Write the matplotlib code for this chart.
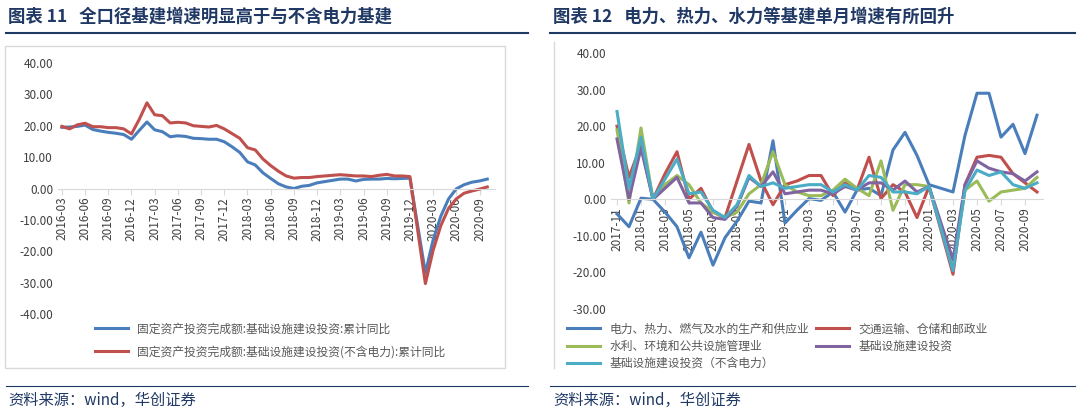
import matplotlib
matplotlib.use("Agg")
import matplotlib.pyplot as plt
from matplotlib.patches import Rectangle
from matplotlib.lines import Line2D

plt.rcParams["font.family"] = "Noto Sans CJK SC"

# ---- left chart data: cumulative yoy, monthly 2016-03 .. 2020-10 (no 2020-01)
left_months = ["2016-%02d" % m for m in range(3, 13)] + \
    ["2017-%02d" % m for m in range(1, 13)] + \
    ["2018-%02d" % m for m in range(1, 13)] + \
    ["2019-%02d" % m for m in range(1, 13)] + \
    ["2020-%02d" % m for m in range(2, 11)]
infra_cum = [19.5, 19.6, 19.8, 20.2, 18.8, 18.3, 17.9, 17.6, 17.2, 15.7,
             18.5, 21.2, 18.7, 18.1, 16.5, 16.8, 16.6, 16.0, 15.9, 15.7, 15.7, 14.9,
             13.3, 11.5, 8.5, 7.5, 5.0, 3.2, 1.5, 0.5, 0.0, 0.7, 1.0, 1.8,
             2.2, 2.6, 3.0, 3.0, 2.4, 2.9, 3.0, 3.0, 3.2, 3.1, 3.2, 3.3,
             -26.9, -16.4, -8.8, -3.3, -0.1, 1.2, 2.0, 2.4, 3.0]
infra_ex_cum = [19.8, 19.0, 20.3, 20.8, 19.7, 19.7, 19.4, 19.4, 19.0, 17.4,
                22.0, 27.3, 23.5, 23.2, 20.9, 21.1, 20.9, 20.0, 19.8, 19.6, 20.1, 19.0,
                17.5, 16.0, 13.0, 12.3, 9.4, 7.3, 5.5, 4.0, 3.3, 3.5, 3.5, 3.8,
                4.0, 4.2, 4.4, 4.2, 4.0, 4.0, 3.8, 4.2, 4.5, 4.0, 4.0, 3.8,
                -30.3, -19.7, -11.8, -6.3, -3.3, -1.5, -0.8, -0.2, 0.5]
left_ticks = ["2016-03", "2016-06", "2016-09", "2016-12", "2017-03", "2017-06", "2017-09",
              "2017-12", "2018-03", "2018-06", "2018-09", "2018-12", "2019-03", "2019-06",
              "2019-09", "2019-12", "2020-03", "2020-06", "2020-09"]

# ---- right chart data: monthly yoy, 2017-11 .. 2020-10 (no 2020-02)
right_months = ["2017-11", "2017-12"] + ["2018-%02d" % m for m in range(1, 13)] + \
    ["2019-%02d" % m for m in range(1, 13)] + ["2020-01"] + \
    ["2020-%02d" % m for m in range(3, 11)]
power = [-4, -7.5, 0.3, 0, -3.5, -7.5, -16, -9, -18, -10.5, -6, -0.5, -1, 16,
         -6.5, -3, 0.2, -0.3, 2, -3.5, 2.5, 3, 1, 13.5, 18.3, 12,
         4, 2, 17.5, 29, 29, 17, 20.5, 12.5, 23]
transport = [20, 6, 15, 0, 7, 13, 0, 3, -3.5, -5, 5, 15, 5, -1.5,
             4, 5, 6.5, 6.5, 1, 4.5, 2.5, 11.5, 0.2, 4, 2, -5,
             3.5, -20.5, 4, 11.5, 12, 11.5, 7, 4.5, 2]
water = [19, -1, 19.5, 0, 4, 6.5, 4, -1, -3.5, -5, -3.5, 1.5, 4, 13,
         4, 2, 1, 1, 2.5, 5.5, 3, 1, 10.5, -3, 4, 4,
         3.5, -18, 2.5, 5, -0.5, 2, 2.5, 3, 6]
infra = [16.5, 0, 14, 0, 3, 6, -1, -1, -5, -5.5, -2, 6, 3.5, 7.5,
         1.5, 2, 2.5, 2.5, 1.5, 3.5, 2.5, 4.5, 4.5, 2.5, 5, 2,
         3.5, -16.5, 4, 10.5, 8.5, 7.5, 7, 5, 7.5]
infra_ex = [24, 3, 17, 0, 5.5, 11, 1.5, 2, -3, -5, -1.5, 6.5, 3.5, 4.5,
            3, 3.5, 4, 4, 2, 4, 2.5, 6.5, 6, 2, 2, 1.5,
            3.5, -19.5, 2.5, 8, 6.5, 7.5, 4, 3, 4.5]
right_ticks = ["2017-11", "2018-01", "2018-03", "2018-05", "2018-07", "2018-09", "2018-11",
               "2019-01", "2019-03", "2019-05", "2019-07", "2019-09", "2019-11", "2020-01",
               "2020-03", "2020-05", "2020-07", "2020-09"]


def mpos(s, start):
    y, m = int(s[:4]), int(s[5:])
    y0, m0 = int(start[:4]), int(start[5:])
    return (y - y0) * 12 + (m - m0)


W, H = 1080, 420
fig = plt.figure(figsize=(W / 100, H / 100), dpi=100)


def rect(l, t, r, b):
    return [l / W, 1 - b / H, (r - l) / W, (b - t) / H]


navy = "#1f3864"
blue, red, green, purple, cyan = "#4a7ebb", "#c0504d", "#9bbb59", "#8064a2", "#4bacc6"

# headers and footers
fig.text(8 / W, 1 - 17 / H, "图表 11   全口径基建增速明显高于与不含电力基建", fontsize=12.5,
         fontweight="bold", color=navy, va="center")
fig.text(553 / W, 1 - 17 / H, "图表 12   电力、热力、水力等基建单月增速有所回升", fontsize=12.5,
         fontweight="bold", color=navy, va="center")
for x0, x1 in [(6, 528), (550, 1075)]:
    fig.add_artist(Line2D([x0 / W, x1 / W], [1 - 33 / H] * 2, color=navy, lw=1.5))
    fig.add_artist(Line2D([x0 / W, x1 / W], [1 - 386 / H] * 2, color=navy, lw=0.8))
fig.text(8 / W, 1 - 400 / H, "资料来源：wind，华创证券", fontsize=11, style="italic",
         color=navy, va="center")
fig.text(553 / W, 1 - 400 / H, "资料来源：wind，华创证券", fontsize=11, style="italic",
         color=navy, va="center")

# panel borders
fig.add_artist(Rectangle((5 / W, 1 - 368 / H), 500 / W, 322 / H, fill=False,
                         ec="#d9d9d9", lw=1, transform=fig.transFigure))
fig.add_artist(Line2D([554 / W] * 2, [1 - 368 / H, 1 - 42 / H], color="#d9d9d9", lw=1))


def style_axis(ax, ticks, start):
    ax.set_facecolor("none")
    for s in ["top", "right", "left"]:
        ax.spines[s].set_visible(False)
    ax.spines["bottom"].set_position(("data", 0))
    ax.spines["bottom"].set_color("#d9d9d9")
    ax.set_xticks([mpos(t, start) for t in ticks])
    ax.set_xticklabels(ticks, rotation=90, fontsize=8.5, color="#404040")
    ax.tick_params(axis="x", color="#d9d9d9", length=4, pad=2)
    ax.tick_params(axis="y", length=0, labelsize=8.5, labelcolor="#404040")
    ax.yaxis.set_major_formatter(matplotlib.ticker.FormatStrFormatter("%.2f"))


# left chart
ax1 = fig.add_axes(rect(58, 63, 495, 314))
lx = [mpos(m, "2016-03") for m in left_months]
l1, = ax1.plot(lx, infra_cum, color=blue, lw=2.2)
l2, = ax1.plot(lx, infra_ex_cum, color=red, lw=2.2)
ax1.set_ylim(-40, 40)
ax1.set_yticks(range(-40, 41, 10))
ax1.set_xlim(-0.5, 56)
style_axis(ax1, left_ticks, "2016-03")
fig.legend([l1, l2], ["固定资产投资完成额:基础设施建设投资:累计同比",
                      "固定资产投资完成额:基础设施建设投资(不含电力):累计同比"],
           loc="upper left", bbox_to_anchor=(84 / W, 1 - 312 / H), frameon=False,
           fontsize=8.5, handlelength=2.8, labelspacing=0.8, labelcolor="#595959")

# right chart
ax2 = fig.add_axes(rect(611, 53, 1043, 309))
rx = [mpos(m, "2017-11") for m in right_months]
series = [(power, blue), (transport, red), (water, green), (infra, purple), (infra_ex, cyan)]
lines = []
for vals, c in series:
    ln, = ax2.plot(rx, vals, color=c, lw=2.2)
    lines.append(ln)
ax2.set_ylim(-30, 40)
ax2.set_yticks(range(-30, 41, 10))
ax2.set_xlim(-0.5, 35.5)
style_axis(ax2, right_ticks, "2017-11")
names = ["电力、热力、燃气及水的生产和供应业", "交通运输、仓储和邮政业",
         "水利、环境和公共设施管理业", "基础设施建设投资", "基础设施建设投资（不含电力）"]
order = [0, 2, 4, 1, 3]
fig.legend([lines[i] for i in order], [names[i] for i in order], ncol=2,
           loc="upper left", bbox_to_anchor=(556 / W, 1 - 312 / H), frameon=False,
           fontsize=8.5, handlelength=2.8, labelspacing=0.35, columnspacing=0.6,
           labelcolor="#595959")

fig.savefig("out.png", dpi=100)
